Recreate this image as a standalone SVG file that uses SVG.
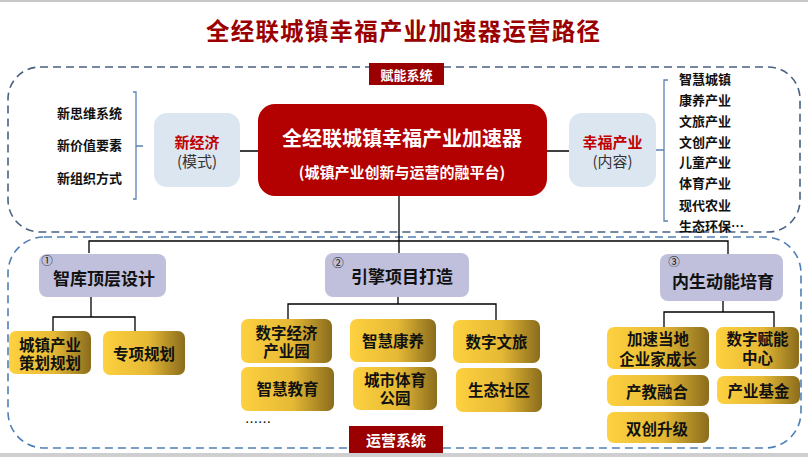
<svg xmlns="http://www.w3.org/2000/svg" width="808" height="457" viewBox="0 0 808 457">
<defs>
<linearGradient id="gold" x1="0" y1="0" x2="1" y2="0">
<stop offset="0" stop-color="#fdd13f"/>
<stop offset="0.55" stop-color="#e6b935"/>
<stop offset="1" stop-color="#8a6c1c"/>
</linearGradient>
<style>
text{font-family:"Noto Sans CJK SC","Liberation Sans",sans-serif;text-anchor:middle;dominant-baseline:central}
.b{font-weight:bold}
.lst{font-size:13px;font-weight:bold;fill:#111;text-anchor:start}
.gold{fill:url(#gold)}
.goldt{font-size:15.5px;font-weight:bold;fill:#111}
.lav{fill:#c0c0dc}
.lavt{font-size:17px;font-weight:bold;fill:#111}
.num{font-size:11.5px;fill:#111}
.blue{fill:#dce6f1}
.conn{stroke:#000;stroke-width:1.3;fill:none}
.brk{stroke:#5b82b4;stroke-width:1.3;fill:none}
</style>
</defs>
<rect x="0" y="0" width="808" height="457" fill="#fff"/>
<rect x="0" y="0" width="808" height="2" fill="#c8c8c8"/>
<rect x="0" y="453" width="808" height="4" fill="#cfcfcf"/>
<text x="403" y="30" class="b" style="font-size:23.5px;fill:#9b0000" textLength="394" lengthAdjust="spacing">全经联城镇幸福产业加速器运营路径</text>

<!-- dashed frames -->
<rect x="8" y="67" width="792" height="165" rx="32" fill="none" stroke="#4a6282" stroke-width="1.6" stroke-dasharray="8,5"/>
<rect x="8" y="237" width="793" height="211" rx="36" fill="none" stroke="#4f7fb6" stroke-width="1.6" stroke-dasharray="8,5"/>

<g id="label-funeng"><rect x="369" y="63" width="75" height="22" fill="#9b0000"/><text x="406.5" y="74" class="b" style="font-size:13px;fill:#fff">赋能系统</text></g>
<g id="label-yunying"><rect x="349" y="426" width="94" height="27" fill="#9b0000"/><text x="396" y="439.5" class="b" style="font-size:15px;fill:#fff">运营系统</text></g>

<!-- connectors -->
<g id="connectors">
<path class="brk" d="M133,92 H136 V199 H133 M136,146 H143"/>
<path class="brk" d="M668,80 H664 V221 H668 M656,150 H664"/>
<path class="conn" d="M240,151 H258 M547,151 H569"/>
<path class="conn" d="M399,196 V253"/>
<path class="conn" d="M89,253 V241 H728 V254"/>
<path class="conn" d="M91,297 V317 M53,331 V317 H135 V331"/>
<path class="conn" d="M398,297 V304 M288,319 V304 H496 V320"/>
<path class="conn" d="M723,301 V312 M664,327 V312 H774 V327"/>
</g>

<g id="left-list">
<text x="57" y="112" class="lst">新思维系统</text>
<text x="57" y="144" class="lst">新价值要素</text>
<text x="57" y="177" class="lst">新组织方式</text>
</g>
<g id="xinjingji"><rect x="154" y="113" width="86" height="74" rx="13" class="blue"/>
<text x="197" y="141" class="b" style="font-size:15px;fill:#c00000">新经济</text>
<text x="197" y="160" style="font-size:15px;fill:#333">(模式)</text></g>

<g id="main"><rect x="258" y="104" width="289" height="92" rx="17" fill="#b30000"/>
<text x="402" y="137" class="b" style="font-size:20px;fill:#fff">全经联城镇幸福产业加速器</text>
<text x="402" y="171" class="b" style="font-size:15px;fill:#fff">(城镇产业创新与运营的融平台)</text></g>

<g id="xingfu"><rect x="569" y="113" width="87" height="74" rx="13" class="blue"/>
<text x="612.5" y="141" class="b" style="font-size:15px;fill:#c00000">幸福产业</text>
<text x="612.5" y="160" style="font-size:15px;fill:#333">(内容)</text></g>

<g id="right-list">
<text x="679" y="78" class="lst">智慧城镇</text>
<text x="679" y="99" class="lst">康养产业</text>
<text x="679" y="120" class="lst">文旅产业</text>
<text x="679" y="141" class="lst">文创产业</text>
<text x="679" y="161" class="lst">儿童产业</text>
<text x="679" y="182" class="lst">体育产业</text>
<text x="679" y="204" class="lst">现代农业</text>
<text x="679" y="225" class="lst">生态环保…</text>
</g>

<g id="zhiku"><rect x="39" y="254" width="127" height="43" rx="8" class="lav"/>
<text x="47" y="260" class="num">①</text>
<text x="104" y="277" class="lavt">智库顶层设计</text></g>
<g id="yinqing"><rect x="325" y="253" width="144" height="44" rx="8" class="lav"/>
<text x="338" y="262" class="num">②</text>
<text x="402" y="275" class="lavt">引擎项目打造</text></g>
<g id="neisheng"><rect x="660" y="254" width="123" height="47" rx="8" class="lav"/>
<text x="674" y="261" class="num">③</text>
<text x="723" y="280" class="lavt">内生动能培育</text></g>

<g id="n-chengzhen"><rect x="9" y="331" width="82" height="43" rx="7" class="gold"/><text class="goldt"><tspan x="50" y="344">城镇产业</tspan><tspan x="50" y="362">策划规划</tspan></text></g>
<g id="n-zhuanxiang"><rect x="103" y="331" width="82" height="44" rx="7" class="gold"/><text x="144" y="353" class="goldt">专项规划</text></g>

<g id="n-shuzijingji"><rect x="241" y="319" width="91" height="44" rx="7" class="gold"/><text class="goldt"><tspan x="286.5" y="332">数字经济</tspan><tspan x="286.5" y="350">产业园</tspan></text></g>
<g id="n-kangyang"><rect x="350" y="319" width="86" height="43" rx="7" class="gold"/><text x="393" y="340" class="goldt">智慧康养</text></g>
<g id="n-wenlv"><rect x="453" y="320" width="87" height="43" rx="7" class="gold"/><text x="496.5" y="341" class="goldt">数字文旅</text></g>
<g id="n-jiaoyu"><rect x="241" y="367" width="93" height="44" rx="7" class="gold"/><text x="287.5" y="388" class="goldt">智慧教育</text></g>
<g id="n-tiyu"><rect x="353" y="367" width="84" height="43" rx="7" class="gold"/><text class="goldt"><tspan x="395" y="379">城市体育</tspan><tspan x="395" y="397">公园</tspan></text></g>
<g id="n-shequ"><rect x="456" y="368" width="86" height="44" rx="7" class="gold"/><text x="499" y="389" class="goldt">生态社区</text></g>
<text x="245" y="421" style="font-size:13px;fill:#111;text-anchor:start">……</text>

<g id="n-qiyejia"><rect x="607" y="327" width="102" height="42" rx="7" class="gold"/><text class="goldt"><tspan x="658" y="338">加速当地</tspan><tspan x="658" y="358">企业家成长</tspan></text></g>
<g id="n-funeng"><rect x="716" y="327" width="83" height="42" rx="7" class="gold"/><text class="goldt"><tspan x="757.5" y="338">数字赋能</tspan><tspan x="757.5" y="357">中心</tspan></text></g>
<g id="n-chanjiao"><rect x="607" y="375" width="102" height="31" rx="7" class="gold"/><text x="657" y="391" class="goldt">产教融合</text></g>
<g id="n-jijin"><rect x="717" y="376" width="83" height="28" rx="7" class="gold"/><text x="758.5" y="390" class="goldt">产业基金</text></g>
<g id="n-shuangchuang"><rect x="607" y="412" width="102" height="31" rx="7" class="gold"/><text x="657" y="428" class="goldt">双创升级</text></g>
</svg>
